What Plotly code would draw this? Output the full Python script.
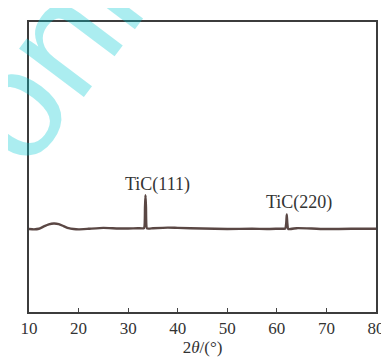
import plotly.graph_objects as go

# 2theta (deg) and relative intensity
two_theta = [10, 11, 12, 13, 14, 15, 16, 17, 18, 19, 20, 22, 25, 28, 30, 32, 33.2,
             33.4, 33.5, 33.6, 33.8, 35, 38, 40, 45, 50, 55, 58, 60, 61.7, 61.9,
             62.0, 62.1, 62.3, 64, 67, 70, 75, 80]
intensity = [28.6, 28.5, 28.7, 29.5, 30.2, 30.5, 30.3, 29.6, 28.9, 28.6, 28.5, 28.7, 29.0, 28.8,
             28.8, 28.9, 28.9, 36.0, 40.3, 36.0, 28.8, 28.9, 29.1, 29.0, 28.8, 28.6, 28.7, 28.6,
             28.7, 28.8, 30.8, 33.6, 30.8, 28.6, 28.9, 28.8, 28.6, 28.7, 28.7]

peak_labels = ["TiC(111)", "TiC(220)"]
peak_label_x = [35.9, 64.5]
peak_label_y = [43.8, 37.6]

x_ticks = [10, 20, 30, 40, 50, 60, 70, 80]

fig = go.Figure()
fig.add_trace(go.Scatter(x=two_theta, y=intensity, mode="lines",
                         line=dict(color="#5a4744", width=2.4, shape="spline", smoothing=0.4),
                         showlegend=False, hoverinfo="skip"))

for t, lx, ly in zip(peak_labels, peak_label_x, peak_label_y):
    fig.add_annotation(x=lx, y=ly, text=t, showarrow=False,
                       font=dict(family="Liberation Serif", size=18, color="#333333"))

# watermark (cropped at the picture's edge, as in the reference)
fig.add_annotation(x=0.047, y=0.87, text="onl", showarrow=False, xref="paper", yref="paper",
                   xanchor="center", yanchor="middle", textangle=-53,
                   font=dict(family="Liberation Sans", size=153, color="rgba(0,200,210,0.33)"))

fig.update_layout(
    width=389, height=358,
    margin=dict(l=20, r=12, t=14, b=45),
    paper_bgcolor="white", plot_bgcolor="white",
    xaxis=dict(range=[10, 80], tickvals=x_ticks, ticks="inside", ticklen=4, tickwidth=1,
               tickcolor="#444", showline=True, linecolor="#3c3c3c", linewidth=2, mirror=True,
               showgrid=False, zeroline=False,
               tickfont=dict(family="Liberation Serif", size=17, color="#333"),
               title=dict(text="2<i>θ</i>/(°)", standoff=4,
                          font=dict(family="Liberation Serif", size=17, color="#333"))),
    yaxis=dict(range=[0, 100], showticklabels=False, ticks="", showline=True, linecolor="#3c3c3c",
               linewidth=2, mirror=True, showgrid=False, zeroline=False),
)

fig.write_html("out.html")
